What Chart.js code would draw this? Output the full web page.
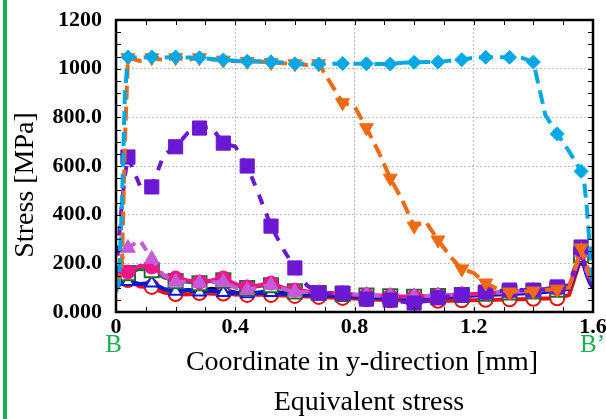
<!doctype html>
<html>
<head>
<meta charset="UTF-8">
<title>Equivalent stress</title>
<script src="https://cdn.jsdelivr.net/npm/chart.js@4"></script>
<style>
  html, body { margin: 0; padding: 0; background: #fff; }
  #wrap { width: 606px; height: 419px; }
</style>
</head>
<body>
<div id="wrap"><canvas id="myChart" width="606" height="419"></canvas></div>
<script>
// coordinate along B-B' [mm]
const coords = [0, 0.01, 0.02, 0.03, 0.04, 0.08, 0.12, 0.16, 0.2, 0.24, 0.28, 0.32, 0.36, 0.4,
  0.44, 0.48, 0.52, 0.56, 0.6, 0.64, 0.68, 0.72, 0.76, 0.8, 0.84, 0.88, 0.92, 0.96, 1.0,
  1.04, 1.08, 1.12, 1.16, 1.2, 1.24, 1.28, 1.32, 1.36, 1.4, 1.44, 1.48, 1.52, 1.56,
  1.57, 1.58, 1.59, 1.6];

// stress [MPa], one array per curve
const cyanDiamond = [80, 120, 450, 900, 1048, 1045, 1048, 1046, 1048, 1046, 1045, 1040, 1036, 1033,
  1030, 1030, 1028, 1025, 1020, 1020, 1019, 1020, 1021, 1020, 1020, 1019, 1019, 1024, 1026,
  1027, 1027, 1033, 1037, 1045, 1047, 1047, 1047, 1045, 1027, 810, 732, 660, 578,
  540, 420, 250, 100];
const orangeTriangle = [100, 130, 200, 700, 1045, 1032, 1045, 1035, 1045, 1036, 1045, 1038, 1035, 1030,
  1030, 1028, 1025, 1022, 1020, 1015, 1020, 940, 860, 845, 757, 660, 550, 460, 353,
  370, 296, 230, 177, 160, 119, 95, 82, 85, 86, 90, 94, 100, 263,
  220, 190, 150, 120];
const purpleSquare = [150, 300, 450, 560, 637, 520, 514, 645, 679, 735, 756, 760, 694, 680,
  600, 480, 353, 260, 181, 110, 78, 75, 78, 60, 53, 52, 49, 42, 37,
  45, 58, 65, 70, 75, 82, 86, 90, 90, 90, 95, 103, 110, 267,
  200, 170, 140, 110];
const orchidTriangle = [120, 180, 220, 240, 263, 296, 218, 150, 123, 125, 119, 122, 123, 100,
  90, 102, 111, 95, 82, 82, 80, 78, 76, 72, 70, 68, 66, 64, 64,
  66, 68, 70, 72, 74, 77, 80, 82, 85, 88, 92, 96, 105, 245,
  205, 165, 135, 115];
const pinkCircle = [150, 160, 165, 165, 164, 190, 185, 150, 140, 130, 123, 130, 140, 115,
  103, 110, 119, 100, 90, 85, 80, 78, 76, 72, 70, 68, 66, 64, 64,
  66, 68, 70, 72, 74, 77, 80, 82, 85, 88, 92, 96, 105, 245,
  205, 165, 135, 115];
const greenSquare = [140, 150, 155, 160, 160, 175, 172, 140, 127, 122, 118, 125, 130, 108,
  98, 105, 110, 95, 85, 82, 78, 76, 74, 70, 68, 66, 64, 62, 62,
  63, 65, 68, 70, 72, 75, 77, 80, 82, 85, 88, 92, 100, 235,
  200, 160, 130, 110];
const blueTriangle = [100, 120, 135, 130, 125, 115, 119, 95, 85, 90, 82, 88, 80, 78,
  75, 78, 80, 75, 72, 70, 70, 68, 65, 63, 60, 58, 58, 56, 55,
  58, 60, 62, 65, 68, 70, 72, 74, 76, 78, 82, 88, 95, 225,
  190, 150, 120, 100];
const redCircle = [90, 110, 120, 128, 131, 105, 103, 80, 74, 72, 78, 75, 76, 72,
  70, 72, 70, 68, 66, 64, 62, 60, 58, 55, 52, 50, 48, 48, 46,
  45, 46, 46, 48, 48, 50, 50, 52, 52, 54, 55, 56, 70, 222,
  190, 150, 120, 100];
const blackLine = [130, 140, 150, 140, 130, 110, 95, 85, 80, 90, 85, 95, 90, 80,
  75, 80, 85, 78, 75, 72, 70, 68, 66, 64, 62, 60, 60, 58, 58,
  60, 62, 65, 68, 70, 72, 74, 76, 78, 80, 85, 90, 100, 230,
  200, 160, 130, 110];

const xTickText = ['0', '0.4', '0.8', '1.2', '1.6'];
const yTickText = ['0.000', '200.0', '400.0', '600.0', '800.0', '1000', '1200'];

const GREEN = '#19b04f';
const SERIF = "'Liberation Serif', 'DejaVu Serif', serif";

// markers sit every 0.08 mm starting at 0.04
function markerAt(i) {
  return Math.round(coords[i] * 100) % 8 === 4;
}

function series(vals, o) {
  return {
    data: coords.map((x, i) => ({ x: x, y: vals[i] })),
    borderColor: o.color,
    backgroundColor: o.fill || o.color,
    borderWidth: o.width || 4,
    borderDash: o.dash || [],
    pointStyle: o.style || false,
    pointRotation: o.rot || 0,
    pointBorderColor: o.pointBorder || o.color,
    pointBackgroundColor: o.fill || o.color,
    pointBorderWidth: o.pbw || 1,
    pointRadius: ctx => (o.style && markerAt(ctx.dataIndex)) ? o.r : 0,
    pointHoverRadius: 0,
    tension: 0,
    fill: false
  };
}

// first dataset is drawn on top
const datasets = [
  series(cyanDiamond, { color: '#00a9e6', dash: [14, 7], style: 'rectRot', r: 7 }),
  series(orangeTriangle, { color: '#f06a12', dash: [14, 7], style: 'triangle', rot: 180, r: 8 }),
  series(purpleSquare, { color: '#6b18d4', dash: [10, 10], style: 'rect', r: 10 }),
  series(orchidTriangle, { color: '#c45cda', dash: [10, 8], style: 'triangle', r: 8.5 }),
  series(pinkCircle, { color: '#f0148c', style: 'circle', r: 7 }),
  series(greenSquare, { color: '#1e6e2a', style: 'rect', r: 10, fill: '#ffffff', pbw: 2, width: 3 }),
  series(blueTriangle, { color: '#0018e0', style: 'triangle', r: 7, fill: '#ffffff', pbw: 2 }),
  series(redCircle, { color: '#e81010', style: 'circle', r: 7, fill: '#ffffff', pbw: 2 }),
  series(blackLine, { color: '#000000', width: 4 })
];

const frameAndText = {
  id: 'frameAndText',
  afterDatasetsDraw(chart) {
    const ctx = chart.ctx, a = chart.chartArea;
    const sx = chart.scales.x, sy = chart.scales.y;
    ctx.save();
    ctx.strokeStyle = '#000';
    ctx.lineWidth = 1;
    ctx.beginPath();
    for (let k = 1; k < 16; k++) {
      const px = Math.round(sx.getPixelForValue(k / 10)) + 0.5;
      ctx.moveTo(px, a.bottom); ctx.lineTo(px, a.bottom - 5);
      ctx.moveTo(px, a.top); ctx.lineTo(px, a.top + 5);
    }
    for (let k = 1; k < 24; k++) {
      const py = Math.round(sy.getPixelForValue(k * 50)) + 0.5;
      ctx.moveTo(a.left, py); ctx.lineTo(a.left + 5, py);
      ctx.moveTo(a.right, py); ctx.lineTo(a.right - 5, py);
    }
    ctx.stroke();
    ctx.lineWidth = 2.5;
    ctx.strokeRect(a.left, a.top, a.right - a.left, a.bottom - a.top);
    ctx.restore();
  },
  afterDraw(chart) {
    const ctx = chart.ctx;
    ctx.save();
    ctx.fillStyle = GREEN;
    ctx.fillRect(3, 0, 4, chart.height);

    ctx.font = '25px ' + SERIF;
    ctx.textBaseline = 'alphabetic';
    ctx.textAlign = 'center';
    ctx.fillText('B', 113.5, 352);
    ctx.textAlign = 'left';
    ctx.fillText('B\u2019', 580, 352);

    ctx.fillStyle = '#000';
    ctx.font = '28px ' + SERIF;
    ctx.textAlign = 'center';
    ctx.fillText('Coordinate in y-direction [mm]', 362, 370);
    ctx.fillText('Equivalent stress', 369, 410);

    ctx.translate(33, 185);
    ctx.rotate(-Math.PI / 2);
    ctx.fillText('Stress [MPa]', 0, 0);
    ctx.restore();
  }
};

const grid = {
  drawTicks: false,
  lineWidth: 1,
  color: c => (c.index === 0 || c.index === c.chart.scales[c.scale.id].ticks.length - 1) ? 'rgba(0,0,0,0)' : '#bdbdbd'
};

new Chart(document.getElementById('myChart'), {
  type: 'line',
  data: { datasets: datasets },
  options: {
    responsive: false,
    animation: false,
    devicePixelRatio: 1,
    layout: { padding: { left: 0, right: 13, top: 20, bottom: 0 } },
    plugins: { legend: { display: false }, tooltip: { enabled: false } },
    scales: {
      x: {
        type: 'linear', min: 0, max: 1.6,
        grid: Object.assign({}, grid, { color: c => (c.index === 0 || c.index === 4) ? 'rgba(0,0,0,0)' : '#bdbdbd' }),
        border: { display: false, dash: [2, 2] },
        ticks: {
          stepSize: 0.4, autoSkip: false, maxRotation: 0, padding: 2, color: '#000',
          font: { family: SERIF, size: 22, weight: 'bold' },
          callback: (v, i) => xTickText[i]
        },
        afterFit: s => { s.height = 107; s.paddingLeft = 0; s.paddingRight = 0; }
      },
      y: {
        type: 'linear', min: 0, max: 1200,
        grid: Object.assign({}, grid, { color: c => (c.index === 0 || c.index === 6) ? 'rgba(0,0,0,0)' : '#bdbdbd' }),
        border: { display: false, dash: [2, 2] },
        ticks: {
          stepSize: 200, autoSkip: false, padding: 14, color: '#000',
          font: { family: SERIF, size: 22, weight: 'bold' },
          callback: (v, i) => yTickText[i]
        },
        afterFit: s => { s.width = 116; s.paddingTop = 0; s.paddingBottom = 0; }
      }
    }
  },
  plugins: [frameAndText]
});
</script>
</body>
</html>
